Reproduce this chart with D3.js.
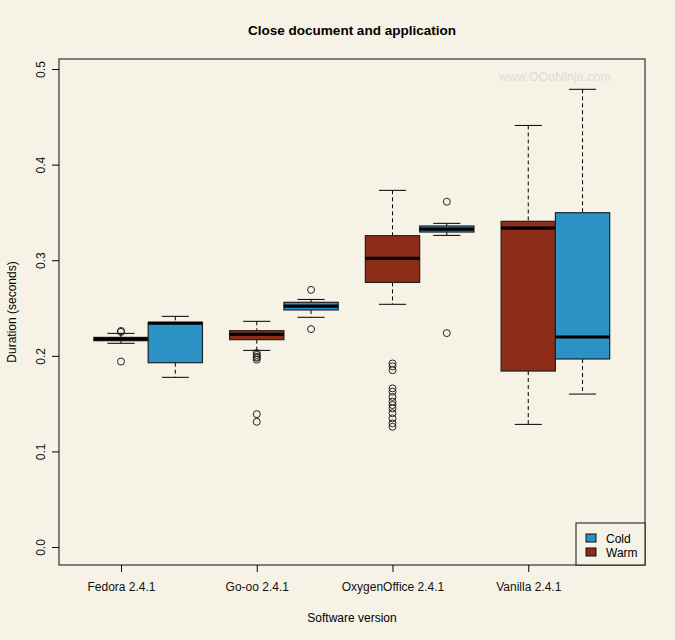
<!DOCTYPE html>
<html>
<head>
<meta charset="utf-8">
<script src="https://cdn.jsdelivr.net/npm/d3@7"></script>
<style>
  body { margin: 0; background: #F6F3E6; }
  svg { display: block; font-family: "Liberation Sans", Arial, sans-serif; }
</style>
</head>
<body>
<svg id="chart" width="675" height="640"></svg>
<script>
// categories and series
var categories = ["Fedora 2.4.1", "Go-oo 2.4.1", "OxygenOffice 2.4.1", "Vanilla 2.4.1"];
var series = ["Warm", "Cold"];
var yTicks = [0, 0.1, 0.2, 0.3, 0.4, 0.5];

// warm start
var warmLow    = [0.2131, 0.2057, 0.2539, 0.1283];
var warmQ1     = [0.2158, 0.2169, 0.2768, 0.1841];
var warmMedian = [0.2176, 0.2225, 0.3020, 0.3335];
var warmQ3     = [0.2193, 0.2263, 0.3257, 0.3407];
var warmHigh   = [0.2235, 0.2361, 0.3731, 0.4410];
var warmOutliers = [
  [0.226, 0.225, 0.194],
  [0.203, 0.201, 0.199, 0.198, 0.196, 0.139, 0.131],
  [0.192, 0.189, 0.185, 0.166, 0.1625, 0.157, 0.152, 0.1485, 0.145, 0.140, 0.1346, 0.1294, 0.1258],
  []
];

// cold start
var coldLow    = [0.1775, 0.2403, 0.3260, 0.1600];
var coldQ1     = [0.1928, 0.2480, 0.3295, 0.1967];
var coldMedian = [0.2343, 0.2520, 0.3326, 0.2197];
var coldQ3     = [0.2348, 0.2560, 0.3358, 0.3497];
var coldHigh   = [0.2413, 0.2590, 0.3386, 0.4788];
var coldOutliers = [
  [],
  [0.269, 0.228],
  [0.3612, 0.2238],
  []
];

var colors = { Warm: "#8E2D17", Cold: "#2A92C5" };

var svg = d3.select("#chart");
var plotLeft = 59, plotRight = 645, plotTop = 59, plotBottom = 565;

// box positions: warm at 1, 3.5, 6, 8.5 and cold one unit to the right
var x = d3.scaleLinear().domain([-0.142, 10.65]).range([plotLeft, plotRight]);
var y = d3.scaleLinear().domain([-0.0188, 0.5105]).range([plotBottom, plotTop]);

var boxes = [];
categories.forEach(function(c, i) {
  boxes.push({ pos: 1 + 2.5 * i, name: "Warm", lo: warmLow[i], q1: warmQ1[i], med: warmMedian[i], q3: warmQ3[i], hi: warmHigh[i], out: warmOutliers[i] });
  boxes.push({ pos: 2 + 2.5 * i, name: "Cold", lo: coldLow[i], q1: coldQ1[i], med: coldMedian[i], q3: coldQ3[i], hi: coldHigh[i], out: coldOutliers[i] });
});

var unit = x(1) - x(0);

// watermark
svg.append("text")
  .attr("x", 499).attr("y", 81)
  .attr("fill", "#DCDCDC")
  .style("font-size", "12.5px")
  .text("www.OOoNinja.com");

var g = svg.selectAll(".box").data(boxes).enter().append("g").attr("class", "box");

// whiskers
g.append("line")
  .attr("x1", function(d) { return x(d.pos); }).attr("x2", function(d) { return x(d.pos); })
  .attr("y1", function(d) { return y(d.hi); }).attr("y2", function(d) { return y(d.q3); })
  .attr("stroke", "#000").attr("stroke-dasharray", "4,3");
g.append("line")
  .attr("x1", function(d) { return x(d.pos); }).attr("x2", function(d) { return x(d.pos); })
  .attr("y1", function(d) { return y(d.q1); }).attr("y2", function(d) { return y(d.lo); })
  .attr("stroke", "#000").attr("stroke-dasharray", "4,3");

// caps
["hi", "lo"].forEach(function(k) {
  g.append("line")
    .attr("x1", function(d) { return x(d.pos) - unit / 4; })
    .attr("x2", function(d) { return x(d.pos) + unit / 4; })
    .attr("y1", function(d) { return y(d[k]); }).attr("y2", function(d) { return y(d[k]); })
    .attr("stroke", "#000");
});

// boxes
g.append("rect")
  .attr("x", function(d) { return x(d.pos) - unit / 2; })
  .attr("width", unit)
  .attr("y", function(d) { return y(d.q3); })
  .attr("height", function(d) { return Math.max(1, y(d.q1) - y(d.q3)); })
  .attr("fill", function(d) { return colors[d.name]; })
  .attr("stroke", "#222").attr("stroke-width", 1.2);

// medians
g.append("line")
  .attr("x1", function(d) { return x(d.pos) - unit / 2; })
  .attr("x2", function(d) { return x(d.pos) + unit / 2; })
  .attr("y1", function(d) { return y(d.med); }).attr("y2", function(d) { return y(d.med); })
  .attr("stroke", "#000").attr("stroke-width", 3.2);

// outliers
g.selectAll("circle").data(function(d) { return d.out.map(function(v) { return { pos: d.pos, v: v }; }); })
  .enter().append("circle")
  .attr("cx", function(d) { return x(d.pos); })
  .attr("cy", function(d) { return y(d.v); })
  .attr("r", 3.5)
  .attr("fill", "none").attr("stroke", "#222");

// frame
svg.append("rect")
  .attr("x", plotLeft).attr("y", plotTop).attr("width", plotRight - plotLeft).attr("height", plotBottom - plotTop)
  .attr("fill", "none").attr("stroke", "#333").attr("stroke-width", 1.2);

// y axis
var yAxis = svg.append("g").attr("transform", "translate(" + plotLeft + ",0)")
  .call(d3.axisLeft(y).tickValues(yTicks).tickSize(7).tickFormat(d3.format(".1f")));
yAxis.select(".domain").remove();
yAxis.selectAll("text")
  .attr("transform", "rotate(-90)")
  .attr("x", 0).attr("y", -14).attr("dy", 0)
  .style("text-anchor", "middle")
  .style("font-size", "12px").attr("fill", "#111");

// x axis
var xAxis = svg.append("g").attr("transform", "translate(0," + plotBottom + ")")
  .call(d3.axisBottom(x).tickValues(categories.map(function(c, i) { return 1 + 2.5 * i; }))
    .tickSize(7).tickPadding(10).tickFormat(function(d, i) { return categories[i]; }));
xAxis.select(".domain").remove();
xAxis.selectAll("text").style("font-size", "12px").attr("fill", "#111");

// titles
svg.append("text")
  .attr("x", (plotLeft + plotRight) / 2).attr("y", 35)
  .attr("text-anchor", "middle")
  .style("font-size", "13.5px").style("font-weight", "bold")
  .text("Close document and application");
svg.append("text")
  .attr("x", (plotLeft + plotRight) / 2).attr("y", 622)
  .attr("text-anchor", "middle")
  .style("font-size", "12px")
  .text("Software version");
svg.append("text")
  .attr("transform", "translate(16," + (plotTop + plotBottom) / 2 + ") rotate(-90)")
  .attr("text-anchor", "middle")
  .style("font-size", "12px")
  .text("Duration (seconds)");

// legend
var legend = svg.append("g");
legend.append("rect")
  .attr("x", 576).attr("y", 523).attr("width", plotRight - 576).attr("height", plotBottom - 523)
  .attr("fill", "#F6F3E6").attr("stroke", "#111");
["Cold", "Warm"].forEach(function(s, i) {
  legend.append("rect")
    .attr("x", 586).attr("y", 534 + i * 14).attr("width", 10).attr("height", 8)
    .attr("fill", colors[s]).attr("stroke", "#111");
  legend.append("text")
    .attr("x", 606).attr("y", 542.5 + i * 14)
    .style("font-size", "12px")
    .text(s);
});
</script>
</body>
</html>
